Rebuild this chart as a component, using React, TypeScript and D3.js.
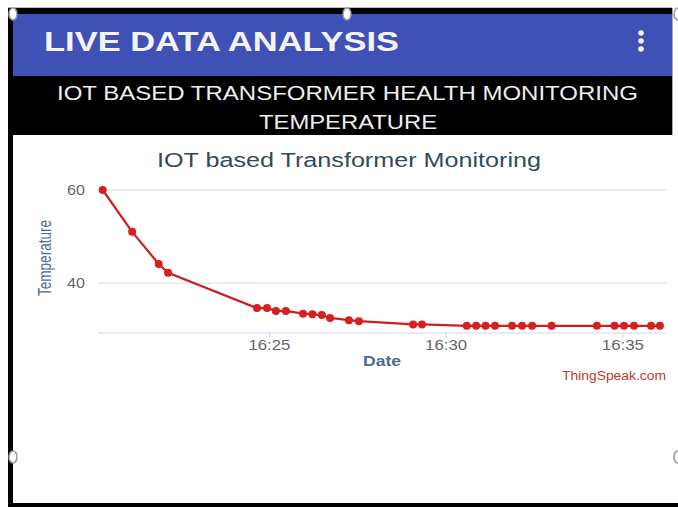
import React from "react";
import * as d3 from "d3";

// Readings taken from the ThingSpeak channel (time, temperature)
const times = [
  "16:20:17", "16:21:07", "16:21:52", "16:22:08", "16:24:39", "16:24:56",
  "16:25:11", "16:25:28", "16:25:57", "16:26:13", "16:26:29", "16:26:43",
  "16:27:15", "16:27:32", "16:29:04", "16:29:19", "16:30:35", "16:30:51",
  "16:31:07", "16:31:23", "16:31:52", "16:32:09", "16:32:26", "16:32:59",
  "16:34:16", "16:34:46", "16:35:02", "16:35:19", "16:35:48", "16:36:03",
];
const temperatures = [
  60, 51, 44.1, 42.2, 34.6, 34.6,
  34, 34, 33.4, 33.3, 33.1, 32.5,
  32, 31.8, 31.1, 31.1, 30.8, 30.8,
  30.8, 30.8, 30.8, 30.8, 30.8, 30.8,
  30.8, 30.8, 30.8, 30.8, 30.8, 30.8,
];
const yTicks = [40, 60];
const xTickLabels = ["16:25", "16:30", "16:35"];

const parseTime = d3.timeParse("%H:%M:%S");
const parseTick = d3.timeParse("%H:%M");

const App = () => {
  const width = 678;
  const height = 507;
  const margin = { left: 98, right: 11, top: 190, bottom: 174 };

  const points = times.map((t, i) => ({ t: parseTime(t) as Date, v: temperatures[i] }));

  // Set the x-and-y scales
  const x = d3.scaleTime()
    .domain([parseTime("16:20:09") as Date, parseTime("16:36:15") as Date])
    .range([margin.left, width - margin.right]);
  const y = d3.scaleLinear()
    .domain([29.25, 60])
    .range([height - margin.bottom, margin.top]);

  const line = d3.line<{ t: Date; v: number }>()
    .x((d) => x(d.t))
    .y((d) => y(d.v));

  const axisY = y.range()[0];
  const font = "'Liberation Sans', Arial, sans-serif";

  return (
    <svg width={width} height={height} style={{ position: "absolute", left: 0, top: 0 }} fontFamily={font}>
      <rect x={0} y={0} width={width} height={height} fill="#fff" />
      {/* phone frame */}
      <rect x={8} y={8} width={664} height={6} fill="#000" />
      <rect x={8} y={8} width={5} height={499} fill="#000" />
      <rect x={8} y={503} width={width - 8} height={4} fill="#000" />
      <line x1={8} x2={672} y1={7.5} y2={7.5} stroke="#bbb" />
      <rect x={13} y={14} width={659} height={62} fill="#3f51b5" />
      <rect x={13} y={76} width={659} height={59} fill="#000" />
      <line x1={672.5} x2={672.5} y1={8} y2={135} stroke="#aaa" />
      <text x={44} y={51} fill="#f4f4f8" fontSize={28} fontWeight="bold" textLength={355} lengthAdjust="spacingAndGlyphs">LIVE DATA ANALYSIS</text>
      {[33, 41, 49].map((cy) => (
        <circle key={cy} cx={641} cy={cy} r={2.8} fill="#f4f4f8" />
      ))}
      <text x={57} y={100} fill="#eee" fontSize={20} textLength={581} lengthAdjust="spacingAndGlyphs">IOT BASED TRANSFORMER HEALTH MONITORING</text>
      <text x={259} y={129} fill="#eee" fontSize={20} textLength={178} lengthAdjust="spacingAndGlyphs">TEMPERATURE</text>

      {/* chart */}
      <text x={157} y={167} fill="#34495e" fontSize={20} textLength={384} lengthAdjust="spacingAndGlyphs">IOT based Transformer Monitoring</text>
      {yTicks.map((t) => (
        <g key={t}>
          <line x1={margin.left} x2={width - margin.right} y1={y(t)} y2={y(t)} stroke="#d8d8d8" strokeWidth={1.2} />
          <text x={85} y={y(t) + 5} fill="#666" fontSize={14} textAnchor="end" textLength={18} lengthAdjust="spacingAndGlyphs">{t}</text>
        </g>
      ))}
      <line x1={margin.left} x2={width - margin.right} y1={axisY} y2={axisY} stroke="#ccd6eb" strokeWidth={1.2} />
      {xTickLabels.map((l) => {
        const tx = x(parseTick(l) as Date);
        return (
          <g key={l}>
            <line x1={tx} x2={tx} y1={axisY} y2={axisY + 5} stroke="#ccd6eb" />
            <text x={tx - 21} y={axisY + 17} fill="#666" fontSize={14} textLength={42} lengthAdjust="spacingAndGlyphs">{l}</text>
          </g>
        );
      })}
      <text transform={`translate(51,258) rotate(-90)`} fill="#4a6c9b" fontSize={18}
        textAnchor="middle" textLength={76} lengthAdjust="spacingAndGlyphs">Temperature</text>
      <text x={363} y={366} fill="#4a6c9b" fontSize={15} fontWeight="bold" textLength={38} lengthAdjust="spacingAndGlyphs">Date</text>
      <text x={562} y={380} fill="#c0392b" fontSize={12} textLength={104} lengthAdjust="spacingAndGlyphs">ThingSpeak.com</text>

      <path d={line(points) ?? ""} fill="none" stroke="#cc1f1f" strokeWidth={2.2} />
      {points.map((d, i) => (
        <circle key={i} cx={x(d.t)} cy={y(d.v)} r={4} fill="#d81e1e" />
      ))}

      {/* selection handles */}
      {[[13, 14], [347, 14], [678, 14], [13, 457], [678, 457]].map(([cx, cy], i) => (
        <ellipse key={i} cx={cx} cy={cy} rx={4} ry={6} fill="#fff" stroke="#999" strokeWidth={1.5} />
      ))}
    </svg>
  );
};

export default App;
